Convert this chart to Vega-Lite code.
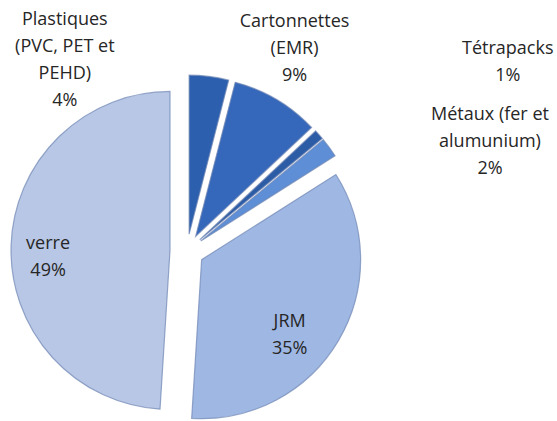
{
  "$schema": "https://vega.github.io/schema/vega-lite/v6.json",
  "width": 374,
  "height": 340,
  "autosize": "none",
  "padding": {"left": 0, "top": 81, "right": 183, "bottom": 0},
  "background": "white",
  "config": {"view": {"stroke": null}},
  "data": {
    "values": [
      {"cat": "Plastiques", "ord": 1, "value": 4, "label": "Plastiques\n(PVC, PET et\nPEHD)\n4%"},
      {"cat": "Cartonnettes", "ord": 2, "value": 9, "label": "Cartonnettes\n(EMR)\n9%"},
      {"cat": "Tétrapacks", "ord": 3, "value": 1, "label": "Tétrapacks\n1%"},
      {"cat": "Métaux", "ord": 4, "value": 2, "label": "Métaux (fer et\nalumunium)\n2%"},
      {"cat": "JRM", "ord": 5, "value": 35, "label": "JRM\n35%"},
      {"cat": "verre", "ord": 6, "value": 49, "label": "verre\n49%"}
    ]
  },
  "encoding": {
    "theta": {"field": "value", "type": "quantitative", "stack": true},
    "order": {"field": "ord", "type": "quantitative"}
  },
  "layer": [
    {
      "mark": {
        "type": "arc",
        "radius": 159,
        "stroke": "#6f86b3",
        "strokeOpacity": 0.7,
        "strokeWidth": 1.2,
        "xOffset": {"expr": "17*sin((datum.value_start+datum.value_end)*PI/100)"},
        "yOffset": {"expr": "-17*cos((datum.value_start+datum.value_end)*PI/100)"}
      },
      "encoding": {
        "color": {
          "field": "cat",
          "type": "nominal",
          "legend": null,
          "scale": {
            "domain": ["Plastiques", "Cartonnettes", "Tétrapacks", "Métaux", "JRM", "verre"],
            "range": ["#2c5fae", "#3568ba", "#2d5ca6", "#5d8ed6", "#9fb7e3", "#b8c7e5"]
          }
        }
      }
    },
    {
      "mark": {
        "type": "text",
        "font": "Open Sans",
        "fontSize": 18,
        "lineHeight": 27,
        "lineBreak": "\n",
        "align": "center",
        "baseline": "middle",
        "color": "#262626",
        "radius": {"expr": "{'Plastiques': 174, 'Cartonnettes': 229, 'Tétrapacks': 365, 'Métaux': 309, 'JRM': 132, 'verre': 139}[datum.cat]"},
        "dx": {"expr": "{'Plastiques': -144, 'Cartonnettes': -9, 'Tétrapacks': 47, 'Métaux': 53, 'JRM': -11, 'verre': 0}[datum.cat]"},
        "dy": {"expr": "{'Plastiques': -58, 'Cartonnettes': -32, 'Tétrapacks': 39, 'Métaux': 46, 'JRM': 4, 'verre': -3}[datum.cat]"}
      },
      "encoding": {
        "text": {"field": "label", "type": "nominal"}
      }
    }
  ]
}
